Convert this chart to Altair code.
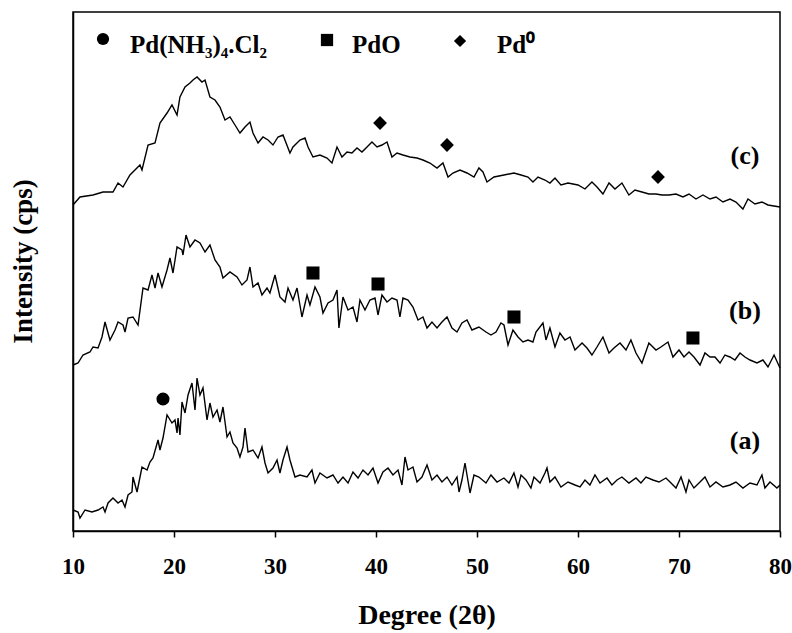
import altair as alt
import pandas as pd

FONT = "Liberation Serif"

# ---- curve (c) ----
c_deg = [10.00, 10.69, 11.98, 12.97, 13.96, 14.46, 14.95, 15.64, 16.63, 16.83, 17.43, 18.12, 18.61, 19.31,
         19.80, 20.30, 20.59, 21.09, 21.58, 21.88, 22.28, 22.77, 23.07, 23.56, 24.06, 24.55, 25.05, 25.54,
         26.04, 26.53, 27.03, 27.52, 27.82, 28.32, 28.81, 29.31, 29.80, 30.30, 30.79, 31.48, 31.78, 32.47,
         32.97, 33.27, 33.76, 34.45, 35.15, 35.64, 36.14, 36.63, 37.13, 37.62, 38.12, 38.61, 39.11, 39.60,
         40.10, 40.59, 41.09, 41.58, 42.08, 42.67, 43.36, 44.06, 44.65, 45.34, 46.04, 46.63, 47.13, 47.62,
         48.31, 49.01, 49.70, 50.19, 50.59, 50.99, 51.68, 52.67, 53.66, 54.36, 55.05, 55.54, 56.04, 56.73,
         57.22, 57.72, 58.31, 59.01, 60.00, 60.69, 61.38, 61.88, 62.47, 63.07, 63.66, 64.35, 65.04, 65.64,
         66.33, 67.02, 67.72, 68.31, 69.01, 69.70, 70.39, 70.99, 71.68, 72.37, 73.07, 73.66, 74.35, 75.05,
         75.64, 76.33, 76.83, 77.52, 78.21, 78.81, 80.00]
c_int = [326, 334, 336, 339, 339, 348, 344, 356, 366, 361, 386, 388, 408, 418,
         426, 416, 434, 444, 448, 451, 454, 449, 451, 434, 431, 424, 411, 414,
         406, 398, 404, 409, 398, 388, 394, 391, 386, 394, 396, 378, 384, 391,
         393, 384, 374, 376, 373, 368, 384, 374, 379, 378, 383, 379, 384, 389,
         384, 386, 389, 374, 378, 376, 374, 373, 371, 368, 363, 368, 354, 358,
         361, 358, 354, 363, 359, 349, 354, 356, 358, 356, 354, 349, 354, 351,
         348, 353, 346, 348, 346, 342, 349, 344, 337, 348, 342, 348, 336, 341,
         339, 337, 337, 336, 336, 337, 334, 337, 332, 336, 332, 334, 329, 332,
         329, 322, 332, 327, 329, 326, 324]

# ---- curve (b) ----
b_deg = [10.00, 10.50, 10.99, 11.68, 11.98, 12.48, 12.87, 13.17, 13.66, 14.16, 14.46, 14.95, 15.15, 15.45,
         15.94, 16.44, 16.93, 17.43, 17.82, 18.12, 18.42, 18.81, 19.31, 19.60, 19.90, 20.30, 20.79, 20.89,
         21.19, 21.58, 22.08, 22.57, 23.07, 23.56, 24.06, 24.55, 24.85, 25.54, 26.24, 26.73, 27.23, 27.52,
         27.82, 28.32, 28.71, 29.21, 29.50, 30.00, 30.49, 30.99, 31.29, 31.78, 32.18, 32.67, 33.17, 33.46,
         33.96, 34.45, 34.75, 35.25, 35.74, 36.14, 36.33, 36.73, 37.23, 37.72, 38.12, 38.41, 38.91, 39.40,
         39.90, 40.20, 40.59, 41.09, 41.58, 42.08, 42.37, 42.67, 43.17, 43.66, 44.16, 44.65, 45.05, 45.54,
         46.04, 46.53, 47.03, 47.52, 48.02, 48.51, 49.01, 49.50, 50.19, 50.89, 51.38, 51.88, 52.37, 52.67,
         53.07, 53.56, 54.06, 54.55, 55.05, 55.54, 55.84, 56.53, 56.83, 57.22, 57.72, 58.21, 58.71, 59.21,
         59.70, 60.40, 60.89, 61.38, 61.88, 62.47, 63.07, 63.56, 64.16, 64.75, 65.24, 65.74, 66.33, 67.02,
         67.72, 68.21, 68.91, 69.40, 70.00, 70.49, 70.99, 71.48, 72.08, 72.57, 73.07, 73.56, 74.06, 74.55,
         75.05, 75.54, 76.04, 76.53, 77.03, 77.72, 78.31, 78.81, 79.41, 80.00]
b_int = [166, 168, 176, 179, 184, 183, 194, 209, 191, 201, 209, 206, 199, 213,
         214, 206, 243, 241, 256, 243, 258, 244, 261, 273, 258, 284, 281, 276,
         296, 284, 291, 288, 279, 286, 271, 264, 253, 259, 254, 246, 251, 264,
         244, 248, 236, 243, 238, 256, 234, 229, 243, 231, 243, 214, 236, 226,
         244, 234, 218, 228, 231, 241, 203, 234, 221, 224, 209, 231, 221, 231,
         233, 216, 236, 229, 233, 231, 214, 233, 231, 224, 211, 214, 203, 209,
         203, 209, 214, 203, 199, 208, 211, 201, 204, 199, 196, 199, 208, 206,
         186, 201, 194, 189, 191, 189, 199, 208, 191, 203, 184, 198, 191, 194,
         181, 188, 183, 176, 184, 194, 178, 183, 188, 181, 191, 178, 168, 188,
         181, 184, 189, 174, 181, 174, 179, 174, 166, 178, 174, 174, 168, 176,
         174, 171, 178, 174, 171, 168, 171, 164, 176, 163]

# ---- curve (a) ----
a_deg = [10.00, 10.50, 10.69, 11.19, 11.88, 12.48, 12.97, 13.17, 13.47, 13.96, 14.46, 14.85, 15.15, 15.45,
         15.84, 15.94, 16.34, 16.83, 17.33, 17.62, 17.92, 18.42, 18.61, 18.91, 19.31, 19.80, 20.10, 20.30,
         20.40, 20.59, 20.79, 21.09, 21.39, 21.78, 22.08, 22.28, 22.57, 22.87, 23.27, 23.56, 23.86, 24.26,
         24.55, 24.85, 25.25, 25.54, 25.84, 26.24, 26.53, 26.83, 27.03, 27.33, 27.82, 28.32, 28.71, 29.01,
         29.31, 29.80, 30.20, 30.49, 30.79, 31.19, 31.48, 31.98, 32.47, 33.17, 33.66, 33.96, 34.45, 35.15,
         35.74, 36.24, 36.73, 37.23, 37.72, 38.22, 38.71, 39.21, 39.70, 40.20, 40.69, 41.19, 41.68, 42.18,
         42.57, 42.87, 43.17, 43.66, 44.06, 44.55, 45.05, 45.54, 46.04, 46.53, 47.03, 47.52, 48.02, 48.22,
         48.51, 48.81, 49.31, 49.70, 50.19, 50.89, 51.38, 51.98, 52.67, 53.17, 53.66, 54.06, 54.36, 54.85,
         55.34, 55.64, 56.24, 56.73, 56.93, 57.22, 57.72, 58.31, 59.01, 59.70, 60.20, 60.69, 61.18, 61.68,
         62.18, 62.87, 63.36, 63.86, 64.35, 65.04, 65.74, 66.23, 66.73, 67.42, 68.02, 68.71, 69.21, 69.70,
         70.20, 70.69, 70.99, 71.48, 72.08, 72.57, 73.07, 73.66, 74.35, 75.05, 75.64, 76.33, 77.03, 77.72,
         78.21, 78.51, 79.01, 79.70, 80.00]
a_int = [21, 19, 13, 21, 19, 21, 24, 19, 28, 33, 28, 31, 24, 36,
         39, 54, 39, 64, 61, 69, 73, 91, 81, 93, 116, 108, 111, 98,
         113, 96, 129, 118, 136, 148, 121, 153, 136, 143, 111, 128, 114, 121,
         109, 124, 94, 99, 88, 83, 74, 84, 103, 79, 81, 73, 84, 68,
         58, 63, 71, 58, 71, 84, 71, 54, 56, 54, 61, 48, 58, 53,
         56, 48, 54, 48, 59, 53, 61, 56, 63, 48, 59, 63, 56, 61,
         46, 74, 61, 64, 49, 54, 66, 51, 56, 49, 54, 46, 54, 39,
         51, 68, 38, 56, 54, 48, 56, 49, 53, 48, 58, 44, 56, 51,
         43, 54, 48, 58, 63, 49, 54, 44, 49, 46, 44, 51, 46, 56,
         48, 53, 46, 51, 54, 48, 53, 48, 54, 51, 49, 53, 48, 43,
         54, 39, 51, 43, 49, 54, 44, 49, 44, 46, 49, 43, 48, 46,
         56, 43, 49, 43, 46]

# ---- phase markers ----
circle_deg = [18.91]
circle_int = [132]
square_deg = [33.76, 40.20, 53.66, 71.38]
square_int = [258, 247, 214, 193]
diamond_deg = [40.40, 47.03, 67.92]
diamond_int = [408, 386, 354]

# ---- legend ----
legend_shapes = ["circle", "square", "diamond"]
legend_mark_deg = [12.97, 35.15, 48.32]
legend_mark_int = [492, 491, 490]
legend_text = ["Pd(NH\u2083)\u2084.Cl\u2082", "PdO", "Pd\u2070"]
legend_text_deg = [15.64, 37.62, 51.98]
legend_text_int = [478, 478, 478]

# ---- curve labels ----
label_text = ["(c)", "(b)", "(a)"]
label_deg = [76.53, 76.53, 76.53]
label_int = [375, 220, 90]

x_ticks = [10, 20, 30, 40, 50, 60, 70, 80]

rows = []
for name, xs, ys in [("c", c_deg, c_int), ("b", b_deg, b_int), ("a", a_deg, a_int)]:
    for x, y in zip(xs, ys):
        rows.append({"series": name, "deg": x, "inten": y})
curves = pd.DataFrame(rows)

xscale = alt.Scale(domain=[10, 80], nice=False, zero=False)
yscale = alt.Scale(domain=[0, 519], nice=False, zero=False)

X = alt.X("deg:Q", scale=xscale,
          axis=alt.Axis(values=x_ticks, title="Degree (2\u03b8)", grid=False, tickSize=6,
                        tickColor="black", tickWidth=1.5, domainColor="black", domainWidth=1.5,
                        labelFont=FONT, labelFontSize=23, labelFontWeight="bold", labelColor="black",
                        labelPadding=18, labelFlush=False, labelOverlap=False,
                        titleFont=FONT, titleFontSize=28, titleFontWeight="bold",
                        titleColor="black", titleBaseline="alphabetic", titleY=92))
Y = alt.Y("inten:Q", scale=yscale,
          axis=alt.Axis(title="Intensity (cps)", labels=False, ticks=False, grid=False, domain=True,
                        domainColor="black", domainWidth=1.5,
                        titleFont=FONT, titleFontSize=27, titleFontWeight="bold", titleColor="black",
                        titleX=-50, titleY=249, titleAngle=-90, titleAlign="center",
                        titleBaseline="middle"))

lines = alt.Chart(curves).mark_line(color="black", strokeWidth=1.4).encode(
    x=X, y=Y, detail="series:N", order="deg:Q")

def pts(xs, ys, shape, size):
    df = pd.DataFrame({"deg": xs, "inten": ys})
    return alt.Chart(df).mark_point(shape=shape, filled=True, color="black", size=size, opacity=1).encode(
        x=alt.X("deg:Q", scale=xscale), y=alt.Y("inten:Q", scale=yscale))

circles = pts(circle_deg, circle_int, "circle", 170)
squares = pts(square_deg, square_int, "square", 170)
diamonds = pts(diamond_deg, diamond_int, "diamond", 190)

leg_pts = [pts([legend_mark_deg[i]], [legend_mark_int[i]], legend_shapes[i], 150) for i in range(3)]

leg_df = pd.DataFrame({"deg": legend_text_deg, "inten": legend_text_int, "t": legend_text})
leg_txt = alt.Chart(leg_df).mark_text(align="left", baseline="alphabetic", font=FONT, fontSize=25,
                                      fontWeight="bold", color="black").encode(
    x=alt.X("deg:Q", scale=xscale), y=alt.Y("inten:Q", scale=yscale), text="t:N")

lab_df = pd.DataFrame({"deg": label_deg, "inten": label_int, "t": label_text})
lab_txt = alt.Chart(lab_df).mark_text(align="center", baseline="middle", font=FONT, fontSize=26,
                                      fontWeight="bold", color="black").encode(
    x=alt.X("deg:Q", scale=xscale), y=alt.Y("inten:Q", scale=yscale), text="t:N")

chart = alt.layer(lines, circles, squares, diamonds, *leg_pts, leg_txt, lab_txt).properties(
    width=707, height=519,
    autosize=alt.AutoSizeParams(type="none"),
    padding={"left": 73, "top": 12, "right": 12, "bottom": 102},
    background="white",
).configure_view(stroke="black", strokeWidth=1.5)

chart.save("out.html", embed_options={"renderer": "svg", "actions": False})
